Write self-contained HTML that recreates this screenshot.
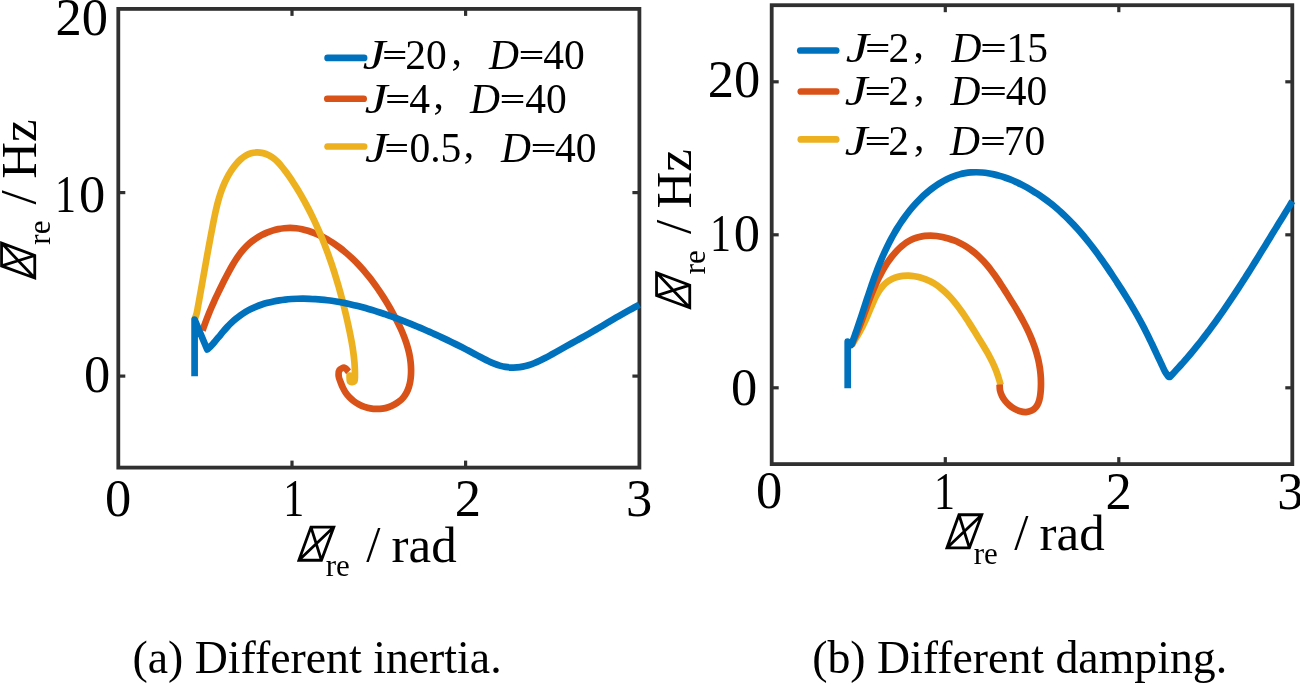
<!DOCTYPE html>
<html><head><meta charset="utf-8"><style>
html,body{margin:0;padding:0;background:#fff;width:1300px;height:685px;overflow:hidden}
svg{display:block;font-family:"Liberation Serif",serif;will-change:transform}
</style></head><body>
<svg width="1300" height="685" viewBox="0 0 1300 685">
<rect width="1300" height="685" fill="#fff"/>
<rect x="118.30" y="8.90" width="521.10" height="458.70" fill="none" stroke="#303030" stroke-width="3.80"/>
<line x1="292.00" y1="467.60" x2="292.00" y2="460.60" stroke="#303030" stroke-width="3.20"/>
<line x1="292.00" y1="8.90" x2="292.00" y2="15.90" stroke="#303030" stroke-width="3.20"/>
<line x1="465.60" y1="467.60" x2="465.60" y2="460.60" stroke="#303030" stroke-width="3.20"/>
<line x1="465.60" y1="8.90" x2="465.60" y2="15.90" stroke="#303030" stroke-width="3.20"/>
<line x1="118.30" y1="376.10" x2="125.30" y2="376.10" stroke="#303030" stroke-width="3.20"/>
<line x1="639.40" y1="376.10" x2="632.40" y2="376.10" stroke="#303030" stroke-width="3.20"/>
<line x1="118.30" y1="192.60" x2="125.30" y2="192.60" stroke="#303030" stroke-width="3.20"/>
<line x1="639.40" y1="192.60" x2="632.40" y2="192.60" stroke="#303030" stroke-width="3.20"/>
<rect x="771.70" y="5.20" width="520.60" height="458.90" fill="none" stroke="#303030" stroke-width="3.80"/>
<line x1="945.30" y1="464.10" x2="945.30" y2="457.10" stroke="#303030" stroke-width="3.20"/>
<line x1="945.30" y1="5.20" x2="945.30" y2="12.20" stroke="#303030" stroke-width="3.20"/>
<line x1="1118.80" y1="464.10" x2="1118.80" y2="457.10" stroke="#303030" stroke-width="3.20"/>
<line x1="1118.80" y1="5.20" x2="1118.80" y2="12.20" stroke="#303030" stroke-width="3.20"/>
<line x1="771.70" y1="387.80" x2="778.70" y2="387.80" stroke="#303030" stroke-width="3.20"/>
<line x1="1292.30" y1="387.80" x2="1285.30" y2="387.80" stroke="#303030" stroke-width="3.20"/>
<line x1="771.70" y1="234.80" x2="778.70" y2="234.80" stroke="#303030" stroke-width="3.20"/>
<line x1="1292.30" y1="234.80" x2="1285.30" y2="234.80" stroke="#303030" stroke-width="3.20"/>
<line x1="771.70" y1="81.80" x2="778.70" y2="81.80" stroke="#303030" stroke-width="3.20"/>
<line x1="1292.30" y1="81.80" x2="1285.30" y2="81.80" stroke="#303030" stroke-width="3.20"/>
<path d="M202.50 330.50 C202.84 329.55 203.85 326.69 204.55 324.79 C205.25 322.89 205.96 320.98 206.68 319.10 C207.41 317.22 208.15 315.36 208.90 313.52 C209.65 311.67 210.42 309.84 211.20 308.02 C211.98 306.20 212.78 304.39 213.58 302.59 C214.39 300.78 215.21 298.99 216.05 297.20 C216.88 295.40 217.73 293.62 218.59 291.83 C219.45 290.04 220.32 288.26 221.21 286.47 C222.09 284.68 222.99 282.89 223.90 281.09 C224.81 279.30 225.73 277.49 226.67 275.68 C227.61 273.88 228.56 272.07 229.55 270.28 C230.53 268.49 231.53 266.70 232.57 264.95 C233.61 263.19 234.68 261.45 235.79 259.75 C236.91 258.06 238.05 256.38 239.25 254.77 C240.45 253.15 241.69 251.57 243.00 250.05 C244.30 248.54 245.66 247.07 247.08 245.68 C248.50 244.29 249.98 242.96 251.53 241.72 C253.07 240.47 254.68 239.29 256.34 238.20 C258.00 237.11 259.72 236.09 261.47 235.16 C263.23 234.23 265.03 233.38 266.87 232.62 C268.70 231.86 270.58 231.18 272.48 230.60 C274.38 230.02 276.32 229.52 278.26 229.13 C280.21 228.73 282.18 228.43 284.16 228.23 C286.14 228.02 288.14 227.92 290.13 227.92 C292.13 227.92 294.13 228.02 296.12 228.23 C298.12 228.44 300.11 228.77 302.09 229.19 C304.06 229.60 306.03 230.14 307.98 230.74 C309.92 231.34 311.85 232.03 313.74 232.78 C315.64 233.53 317.51 234.36 319.35 235.23 C321.18 236.09 322.99 237.02 324.75 237.98 C326.52 238.94 328.25 239.95 329.95 241.00 C331.66 242.05 333.32 243.14 334.96 244.27 C336.60 245.40 338.21 246.57 339.79 247.77 C341.38 248.98 342.93 250.22 344.45 251.48 C345.98 252.75 347.48 254.05 348.96 255.38 C350.43 256.71 351.88 258.07 353.31 259.45 C354.73 260.83 356.14 262.24 357.52 263.67 C358.90 265.11 360.25 266.56 361.58 268.05 C362.92 269.53 364.23 271.03 365.52 272.56 C366.80 274.08 368.07 275.63 369.32 277.20 C370.56 278.77 371.78 280.35 372.99 281.96 C374.19 283.57 375.37 285.19 376.53 286.83 C377.69 288.47 378.83 290.13 379.96 291.81 C381.08 293.48 382.18 295.17 383.26 296.87 C384.35 298.57 385.41 300.29 386.46 302.02 C387.50 303.74 388.53 305.49 389.54 307.24 C390.55 308.99 391.54 310.75 392.52 312.52 C393.50 314.29 394.46 316.07 395.39 317.86 C396.33 319.64 397.26 321.44 398.14 323.25 C399.03 325.05 399.90 326.87 400.73 328.69 C401.56 330.52 402.36 332.36 403.12 334.20 C403.88 336.05 404.60 337.91 405.27 339.78 C405.94 341.65 406.57 343.53 407.14 345.43 C407.71 347.33 408.23 349.23 408.69 351.15 C409.15 353.08 409.55 355.01 409.89 356.96 C410.22 358.91 410.49 360.87 410.69 362.85 C410.88 364.83 411.02 366.82 411.06 368.83 C411.11 370.84 411.09 372.88 410.96 374.91 C410.83 376.93 410.64 378.99 410.30 380.99 C409.96 382.99 409.53 384.98 408.92 386.89 C408.32 388.79 407.61 390.66 406.69 392.40 C405.78 394.14 404.71 395.81 403.45 397.32 C402.19 398.84 400.71 400.24 399.14 401.49 C397.57 402.74 395.80 403.86 394.00 404.81 C392.19 405.77 390.25 406.58 388.31 407.20 C386.37 407.83 384.35 408.29 382.35 408.59 C380.35 408.88 378.31 408.99 376.31 408.95 C374.31 408.91 372.30 408.70 370.34 408.35 C368.38 408.00 366.43 407.49 364.55 406.85 C362.67 406.21 360.82 405.41 359.07 404.49 C357.32 403.57 355.62 402.51 354.04 401.34 C352.46 400.16 350.95 398.85 349.57 397.44 C348.20 396.02 346.93 394.49 345.81 392.85 C344.69 391.22 343.73 389.45 342.85 387.64 C341.98 385.83 341.23 383.91 340.53 382.00 C339.84 380.10 338.88 378.15 338.70 376.19 C338.51 374.23 338.44 371.66 339.41 370.25 C340.38 368.85 342.97 367.50 344.50 367.76 C346.04 368.02 347.92 371.13 348.60 371.80" fill="none" stroke="#D95319" stroke-width="6.70" stroke-linejoin="round" stroke-linecap="butt"/>
<path d="M195.00 318.50 C195.30 317.56 196.33 314.78 196.82 312.86 C197.30 310.94 197.55 308.92 197.91 306.96 C198.27 304.99 198.63 303.03 198.99 301.06 C199.34 299.10 199.70 297.13 200.05 295.17 C200.40 293.21 200.76 291.25 201.11 289.28 C201.46 287.32 201.81 285.36 202.16 283.40 C202.51 281.44 202.86 279.48 203.21 277.52 C203.56 275.55 203.91 273.59 204.26 271.63 C204.61 269.67 204.96 267.71 205.31 265.75 C205.66 263.78 206.01 261.82 206.36 259.86 C206.72 257.89 207.07 255.93 207.43 253.96 C207.78 252.00 208.14 250.03 208.50 248.07 C208.86 246.10 209.22 244.13 209.59 242.16 C209.96 240.19 210.32 238.22 210.69 236.24 C211.07 234.27 211.44 232.29 211.82 230.32 C212.20 228.34 212.58 226.36 212.96 224.38 C213.35 222.40 213.74 220.41 214.14 218.44 C214.55 216.46 214.96 214.47 215.39 212.50 C215.83 210.53 216.28 208.56 216.75 206.61 C217.23 204.65 217.73 202.70 218.27 200.77 C218.81 198.84 219.37 196.92 219.98 195.01 C220.59 193.11 221.23 191.23 221.93 189.36 C222.62 187.50 223.36 185.66 224.15 183.84 C224.94 182.03 225.79 180.23 226.69 178.47 C227.60 176.71 228.56 174.97 229.60 173.27 C230.63 171.57 231.73 169.90 232.90 168.27 C234.08 166.64 235.32 165.02 236.65 163.49 C237.99 161.97 239.39 160.46 240.90 159.14 C242.40 157.83 243.99 156.58 245.69 155.60 C247.39 154.62 249.20 153.79 251.10 153.27 C252.99 152.74 255.05 152.48 257.06 152.45 C259.07 152.43 261.18 152.67 263.14 153.11 C265.09 153.56 267.03 154.27 268.79 155.14 C270.56 156.01 272.20 157.14 273.75 158.35 C275.31 159.56 276.75 160.96 278.14 162.41 C279.53 163.85 280.83 165.43 282.11 167.00 C283.40 168.56 284.62 170.19 285.83 171.81 C287.03 173.42 288.10 174.89 289.35 176.71 C290.61 178.52 292.17 180.85 293.37 182.70 C294.58 184.54 295.53 186.07 296.58 187.77 C297.63 189.47 298.66 191.18 299.67 192.90 C300.69 194.62 301.69 196.35 302.67 198.09 C303.65 199.83 304.62 201.57 305.57 203.33 C306.52 205.09 307.45 206.85 308.37 208.63 C309.29 210.40 310.19 212.18 311.08 213.97 C311.97 215.76 312.84 217.56 313.70 219.37 C314.55 221.17 315.40 222.99 316.22 224.81 C317.05 226.63 317.87 228.45 318.67 230.29 C319.46 232.12 320.25 233.96 321.02 235.81 C321.79 237.66 322.55 239.51 323.29 241.37 C324.04 243.23 324.77 245.10 325.49 246.97 C326.20 248.84 326.91 250.71 327.60 252.60 C328.29 254.48 328.97 256.36 329.64 258.26 C330.30 260.15 330.96 262.04 331.60 263.94 C332.24 265.85 332.87 267.75 333.49 269.66 C334.11 271.57 334.71 273.48 335.31 275.40 C335.90 277.31 336.48 279.23 337.06 281.16 C337.63 283.08 338.19 285.01 338.74 286.94 C339.29 288.87 339.83 290.80 340.36 292.73 C340.89 294.67 341.41 296.60 341.92 298.54 C342.43 300.48 342.92 302.42 343.41 304.36 C343.90 306.30 344.38 308.25 344.85 310.19 C345.32 312.14 345.78 314.08 346.24 316.03 C346.69 317.98 347.13 319.93 347.56 321.87 C348.00 323.82 348.43 325.77 348.84 327.72 C349.26 329.67 349.67 331.61 350.06 333.56 C350.46 335.51 350.85 337.46 351.21 339.42 C351.58 341.37 351.93 343.33 352.25 345.29 C352.58 347.25 352.89 349.22 353.16 351.19 C353.44 353.16 353.69 355.14 353.91 357.13 C354.13 359.12 354.33 361.11 354.48 363.11 C354.63 365.12 354.75 367.13 354.83 369.15 C354.90 371.18 355.00 373.24 354.93 375.26 C354.86 377.28 355.21 380.23 354.41 381.29 C353.60 382.34 350.91 382.57 350.11 381.61 C349.31 380.64 349.69 376.52 349.60 375.50" fill="none" stroke="#EDB120" stroke-width="6.70" stroke-linejoin="round" stroke-linecap="round"/>
<path d="M194.6 376.3 L194.6 319.6 L207.20 349.50 C207.92 348.82 210.17 346.84 211.55 345.41 C212.93 343.98 214.17 342.43 215.46 340.91 C216.75 339.39 218.01 337.83 219.29 336.29 C220.57 334.75 221.84 333.18 223.14 331.66 C224.44 330.13 225.75 328.61 227.11 327.13 C228.47 325.66 229.85 324.21 231.29 322.83 C232.74 321.44 234.23 320.11 235.78 318.84 C237.32 317.57 238.93 316.36 240.57 315.21 C242.21 314.06 243.89 312.97 245.61 311.95 C247.33 310.93 249.09 309.98 250.87 309.09 C252.65 308.20 254.47 307.38 256.31 306.62 C258.14 305.86 260.01 305.17 261.89 304.53 C263.77 303.90 265.68 303.33 267.60 302.81 C269.52 302.29 271.47 301.83 273.42 301.42 C275.37 301.01 277.35 300.65 279.33 300.34 C281.30 300.03 283.30 299.77 285.30 299.55 C287.29 299.33 289.30 299.16 291.31 299.02 C293.32 298.89 295.33 298.79 297.34 298.73 C299.36 298.67 301.37 298.65 303.38 298.66 C305.39 298.67 307.40 298.71 309.40 298.79 C311.41 298.86 313.41 298.96 315.41 299.09 C317.40 299.23 319.40 299.39 321.39 299.58 C323.38 299.77 325.37 299.99 327.35 300.24 C329.33 300.48 331.31 300.76 333.29 301.05 C335.27 301.35 337.24 301.68 339.21 302.03 C341.18 302.37 343.14 302.75 345.10 303.14 C347.06 303.54 349.02 303.96 350.97 304.40 C352.92 304.84 354.87 305.30 356.82 305.79 C358.76 306.27 360.70 306.77 362.64 307.30 C364.57 307.82 366.50 308.36 368.43 308.92 C370.35 309.48 372.28 310.06 374.19 310.65 C376.11 311.24 378.02 311.85 379.93 312.48 C381.84 313.11 383.74 313.75 385.64 314.40 C387.54 315.05 389.43 315.72 391.32 316.40 C393.21 317.09 395.09 317.78 396.97 318.48 C398.84 319.19 400.72 319.91 402.58 320.63 C404.45 321.36 406.31 322.09 408.17 322.84 C410.02 323.58 411.88 324.34 413.72 325.10 C415.57 325.86 417.40 326.63 419.24 327.40 C421.07 328.18 423.08 329.04 424.73 329.75 C426.37 330.46 427.46 330.94 429.10 331.66 C430.73 332.39 432.73 333.28 434.54 334.10 C436.35 334.92 438.16 335.75 439.97 336.58 C441.77 337.42 443.57 338.27 445.38 339.13 C447.18 339.98 448.98 340.85 450.77 341.72 C452.57 342.60 454.37 343.49 456.17 344.38 C457.96 345.28 459.76 346.19 461.56 347.10 C463.35 348.02 465.15 348.95 466.95 349.89 C468.75 350.83 470.54 351.78 472.35 352.74 C474.15 353.71 475.95 354.69 477.75 355.66 C479.56 356.63 481.37 357.61 483.18 358.55 C485.00 359.48 486.82 360.41 488.65 361.26 C490.48 362.11 492.32 362.93 494.17 363.65 C496.02 364.37 497.88 365.04 499.75 365.59 C501.63 366.13 503.52 366.59 505.42 366.92 C507.32 367.24 509.25 367.45 511.17 367.53 C513.09 367.62 515.03 367.58 516.96 367.44 C518.88 367.29 520.82 367.02 522.73 366.66 C524.64 366.29 526.55 365.80 528.44 365.23 C530.33 364.66 532.20 363.98 534.07 363.24 C535.93 362.51 537.78 361.68 539.62 360.82 C541.46 359.96 543.29 359.03 545.11 358.08 C546.93 357.13 548.74 356.13 550.54 355.13 C552.34 354.13 554.13 353.10 555.91 352.10 C557.69 351.09 559.46 350.08 561.22 349.09 C562.99 348.10 564.74 347.12 566.49 346.16 C568.24 345.19 569.99 344.23 571.72 343.27 C573.46 342.32 575.20 341.37 576.93 340.41 C578.66 339.46 580.38 338.50 582.11 337.54 C583.84 336.57 585.56 335.61 587.28 334.62 C589.01 333.64 590.73 332.65 592.45 331.64 C594.17 330.64 595.90 329.63 597.62 328.61 C599.35 327.59 601.07 326.56 602.80 325.54 C604.52 324.51 606.25 323.48 607.98 322.46 C609.71 321.43 611.44 320.40 613.18 319.38 C614.91 318.36 616.65 317.34 618.39 316.33 C620.13 315.32 621.87 314.32 623.61 313.33 C625.36 312.34 627.11 311.36 628.86 310.39 C630.62 309.43 632.38 308.50 634.14 307.55 C635.89 306.60 638.52 305.17 639.40 304.70" fill="none" stroke="#0072BD" stroke-width="6.70" stroke-linejoin="round" stroke-linecap="butt"/>
<path d="M852.00 345.00 C852.49 344.12 853.92 341.39 854.93 339.70 C855.93 338.01 857.03 336.51 858.02 334.86 C859.01 333.20 859.95 331.52 860.86 329.79 C861.77 328.07 862.64 326.31 863.50 324.52 C864.36 322.72 865.19 320.89 866.02 319.03 C866.85 317.17 867.65 315.27 868.47 313.34 C869.29 311.41 870.10 309.43 870.94 307.46 C871.78 305.49 872.62 303.47 873.52 301.52 C874.41 299.57 875.33 297.61 876.32 295.76 C877.31 293.91 878.34 292.08 879.46 290.40 C880.58 288.72 881.76 287.11 883.06 285.68 C884.35 284.25 885.74 282.94 887.23 281.82 C888.71 280.70 890.32 279.74 891.99 278.94 C893.65 278.13 895.42 277.50 897.22 277.00 C899.02 276.49 900.90 276.15 902.79 275.93 C904.68 275.71 906.63 275.64 908.57 275.69 C910.51 275.74 912.49 275.92 914.43 276.21 C916.37 276.51 918.33 276.93 920.23 277.45 C922.13 277.97 924.01 278.60 925.84 279.33 C927.66 280.06 929.43 280.89 931.15 281.80 C932.87 282.72 934.54 283.73 936.17 284.82 C937.80 285.90 939.38 287.07 940.92 288.31 C942.46 289.54 943.95 290.86 945.41 292.22 C946.87 293.59 948.29 295.02 949.67 296.50 C951.06 297.98 952.40 299.51 953.72 301.08 C955.04 302.65 956.32 304.27 957.58 305.92 C958.84 307.56 960.07 309.25 961.27 310.94 C962.48 312.64 963.66 314.37 964.82 316.11 C965.98 317.84 967.11 319.60 968.24 321.35 C969.36 323.10 970.46 324.86 971.55 326.61 C972.64 328.35 973.71 330.10 974.78 331.83 C975.85 333.55 976.90 335.27 977.95 336.96 C978.99 338.65 980.04 340.31 981.06 341.98 C982.08 343.64 983.09 345.29 984.09 346.95 C985.08 348.61 986.05 350.26 987.00 351.93 C987.95 353.60 988.88 355.27 989.78 356.98 C990.68 358.68 991.56 360.40 992.40 362.16 C993.24 363.92 994.05 365.70 994.82 367.54 C995.59 369.37 996.33 371.24 997.02 373.17 C997.72 375.10 998.37 377.15 998.98 379.13 C999.59 381.10 1000.41 384.02 1000.70 385.00" fill="none" stroke="#EDB120" stroke-width="6.70" stroke-linejoin="round" stroke-linecap="butt"/>
<path d="M851.50 345.00 C851.92 344.07 853.19 341.34 854.04 339.45 C854.89 337.56 855.78 335.58 856.59 333.67 C857.41 331.77 858.17 329.90 858.92 328.04 C859.66 326.18 860.37 324.35 861.06 322.52 C861.76 320.69 862.42 318.88 863.09 317.08 C863.75 315.27 864.39 313.48 865.04 311.68 C865.69 309.89 866.33 308.10 866.98 306.31 C867.64 304.51 868.29 302.72 868.96 300.92 C869.64 299.12 870.32 297.31 871.04 295.49 C871.76 293.66 872.49 291.83 873.27 289.98 C874.05 288.12 874.85 286.25 875.70 284.37 C876.55 282.49 877.43 280.59 878.36 278.70 C879.28 276.82 880.25 274.93 881.25 273.06 C882.26 271.20 883.30 269.34 884.39 267.53 C885.48 265.72 886.60 263.92 887.77 262.19 C888.95 260.45 890.16 258.75 891.42 257.12 C892.68 255.49 893.98 253.90 895.34 252.40 C896.69 250.90 898.08 249.46 899.53 248.11 C900.97 246.77 902.46 245.50 904.00 244.35 C905.54 243.19 907.13 242.12 908.76 241.18 C910.40 240.24 912.09 239.40 913.83 238.69 C915.57 237.99 917.37 237.41 919.20 236.95 C921.03 236.50 922.91 236.17 924.81 235.95 C926.71 235.73 928.65 235.64 930.60 235.64 C932.55 235.65 934.53 235.77 936.50 235.98 C938.47 236.20 940.46 236.52 942.43 236.93 C944.41 237.34 946.38 237.85 948.33 238.43 C950.28 239.02 952.22 239.70 954.12 240.46 C956.03 241.21 957.91 242.05 959.74 242.95 C961.57 243.86 963.37 244.84 965.11 245.88 C966.84 246.92 968.53 248.03 970.16 249.19 C971.79 250.35 973.35 251.58 974.87 252.85 C976.40 254.12 977.86 255.44 979.29 256.81 C980.71 258.18 982.09 259.60 983.43 261.05 C984.78 262.50 986.07 264.00 987.35 265.52 C988.62 267.05 989.85 268.61 991.06 270.20 C992.27 271.78 993.45 273.40 994.61 275.03 C995.77 276.67 996.91 278.33 998.04 280.00 C999.16 281.67 1000.26 283.36 1001.36 285.05 C1002.46 286.75 1003.55 288.45 1004.64 290.16 C1005.72 291.87 1006.80 293.58 1007.88 295.29 C1008.95 297.00 1010.03 298.72 1011.09 300.43 C1012.15 302.15 1013.21 303.87 1014.25 305.60 C1015.30 307.32 1016.33 309.05 1017.34 310.78 C1018.36 312.52 1019.36 314.26 1020.34 316.00 C1021.32 317.75 1022.28 319.50 1023.22 321.26 C1024.16 323.02 1025.07 324.79 1025.96 326.57 C1026.85 328.35 1027.71 330.13 1028.54 331.93 C1029.37 333.73 1030.18 335.53 1030.94 337.35 C1031.71 339.17 1032.44 341.00 1033.14 342.84 C1033.83 344.68 1034.49 346.53 1035.11 348.40 C1035.73 350.27 1036.30 352.15 1036.83 354.04 C1037.36 355.94 1037.85 357.85 1038.29 359.77 C1038.73 361.70 1039.12 363.64 1039.45 365.60 C1039.79 367.56 1040.08 369.53 1040.31 371.52 C1040.53 373.52 1040.71 375.53 1040.82 377.56 C1040.94 379.59 1040.99 381.64 1040.98 383.71 C1040.98 385.78 1040.92 387.89 1040.77 389.99 C1040.62 392.08 1040.45 394.26 1040.09 396.30 C1039.73 398.34 1039.31 400.39 1038.62 402.20 C1037.94 404.01 1037.11 405.75 1035.96 407.16 C1034.82 408.56 1033.37 409.79 1031.73 410.61 C1030.08 411.43 1028.02 411.97 1026.09 412.08 C1024.17 412.18 1022.09 411.80 1020.17 411.26 C1018.25 410.72 1016.34 409.84 1014.57 408.85 C1012.79 407.87 1011.06 406.67 1009.51 405.35 C1007.96 404.04 1006.49 402.55 1005.24 400.98 C1003.99 399.41 1002.87 397.69 1002.00 395.93 C1001.13 394.17 1000.42 392.32 1000.02 390.42 C999.62 388.51 999.67 385.49 999.60 384.50" fill="none" stroke="#D95319" stroke-width="6.70" stroke-linejoin="round" stroke-linecap="butt"/>
<path d="M847.7 388.3 L847.7 341.7 L851.20 345.00 C851.56 344.06 852.64 341.24 853.34 339.37 C854.04 337.49 854.71 335.62 855.38 333.74 C856.05 331.87 856.70 329.98 857.35 328.10 C858.01 326.21 858.65 324.32 859.28 322.43 C859.92 320.54 860.55 318.64 861.18 316.74 C861.80 314.85 862.42 312.95 863.05 311.05 C863.67 309.15 864.29 307.25 864.91 305.36 C865.53 303.46 866.15 301.56 866.77 299.66 C867.40 297.76 868.02 295.86 868.66 293.97 C869.29 292.08 869.93 290.18 870.57 288.29 C871.22 286.40 871.86 284.51 872.53 282.63 C873.19 280.75 873.86 278.87 874.54 276.99 C875.22 275.12 875.91 273.25 876.62 271.38 C877.33 269.52 878.04 267.66 878.78 265.80 C879.52 263.95 880.27 262.10 881.04 260.26 C881.81 258.42 882.60 256.59 883.40 254.77 C884.21 252.94 885.04 251.13 885.89 249.32 C886.74 247.51 887.61 245.71 888.51 243.93 C889.41 242.14 890.33 240.36 891.28 238.59 C892.23 236.82 893.20 235.07 894.21 233.32 C895.21 231.58 896.25 229.84 897.31 228.12 C898.38 226.40 899.47 224.70 900.60 223.00 C901.73 221.31 902.89 219.62 904.08 217.96 C905.28 216.29 906.51 214.64 907.78 213.01 C909.04 211.39 910.34 209.78 911.66 208.20 C912.99 206.62 914.35 205.06 915.74 203.54 C917.13 202.02 918.55 200.53 920.00 199.08 C921.45 197.63 922.92 196.22 924.43 194.85 C925.93 193.48 927.47 192.15 929.02 190.88 C930.58 189.60 932.17 188.37 933.78 187.20 C935.39 186.03 937.02 184.91 938.68 183.85 C940.34 182.79 942.02 181.79 943.72 180.86 C945.43 179.93 947.16 179.05 948.90 178.26 C950.65 177.46 952.42 176.73 954.21 176.09 C955.99 175.44 957.80 174.86 959.63 174.37 C961.45 173.88 963.30 173.47 965.16 173.15 C967.02 172.83 968.90 172.60 970.79 172.45 C972.68 172.30 974.59 172.24 976.50 172.25 C978.42 172.26 980.34 172.36 982.28 172.53 C984.21 172.70 986.15 172.94 988.09 173.25 C990.03 173.56 991.97 173.94 993.91 174.38 C995.85 174.83 997.80 175.34 999.73 175.90 C1001.67 176.46 1003.79 177.16 1005.52 177.76 C1007.25 178.35 1008.40 178.79 1010.11 179.48 C1011.83 180.16 1013.91 181.04 1015.79 181.88 C1017.67 182.73 1019.53 183.62 1021.37 184.55 C1023.22 185.47 1025.04 186.44 1026.84 187.44 C1028.64 188.43 1030.42 189.47 1032.17 190.52 C1033.92 191.58 1035.65 192.66 1037.35 193.78 C1039.05 194.89 1040.72 196.02 1042.37 197.19 C1044.02 198.35 1045.65 199.54 1047.25 200.75 C1048.85 201.96 1050.43 203.19 1051.99 204.45 C1053.55 205.71 1055.08 206.99 1056.59 208.29 C1058.11 209.59 1059.60 210.92 1061.07 212.26 C1062.54 213.60 1063.99 214.97 1065.42 216.35 C1066.85 217.73 1068.27 219.14 1069.66 220.56 C1071.06 221.97 1072.43 223.41 1073.79 224.87 C1075.15 226.32 1076.49 227.79 1077.82 229.28 C1079.14 230.76 1080.45 232.26 1081.75 233.78 C1083.04 235.29 1084.32 236.82 1085.58 238.37 C1086.85 239.91 1088.10 241.47 1089.33 243.03 C1090.57 244.60 1091.80 246.18 1093.01 247.77 C1094.22 249.36 1095.42 250.96 1096.61 252.57 C1097.80 254.18 1098.97 255.79 1100.14 257.42 C1101.31 259.05 1102.46 260.68 1103.61 262.32 C1104.76 263.97 1105.90 265.62 1107.03 267.27 C1108.16 268.92 1109.28 270.58 1110.40 272.25 C1111.51 273.91 1112.62 275.58 1113.72 277.25 C1114.83 278.92 1115.92 280.60 1117.01 282.28 C1118.10 283.96 1119.19 285.64 1120.27 287.32 C1121.35 289.00 1122.42 290.69 1123.48 292.38 C1124.55 294.07 1125.60 295.77 1126.65 297.47 C1127.70 299.17 1128.74 300.87 1129.77 302.58 C1130.80 304.29 1131.82 306.00 1132.83 307.72 C1133.84 309.44 1134.84 311.17 1135.83 312.90 C1136.82 314.63 1137.80 316.37 1138.77 318.11 C1139.73 319.86 1140.69 321.61 1141.63 323.37 C1142.57 325.13 1143.50 326.90 1144.42 328.67 C1145.33 330.45 1146.23 332.23 1147.13 334.02 C1148.02 335.81 1148.90 337.61 1149.77 339.41 C1150.64 341.21 1151.51 343.02 1152.37 344.82 C1153.23 346.63 1154.08 348.45 1154.93 350.26 C1155.79 352.07 1156.64 353.89 1157.49 355.71 C1158.34 357.52 1159.19 359.34 1160.05 361.15 C1160.91 362.97 1161.76 364.78 1162.63 366.59 C1163.50 368.40 1164.26 370.27 1165.26 372.00 C1166.25 373.74 1168.04 376.17 1168.60 377.00 L1169.93 376.84 C1170.62 376.11 1172.71 373.94 1174.09 372.48 C1175.46 371.01 1176.83 369.54 1178.18 368.06 C1179.53 366.57 1180.88 365.08 1182.21 363.58 C1183.54 362.08 1184.86 360.57 1186.17 359.06 C1187.48 357.54 1188.78 356.01 1190.07 354.48 C1191.36 352.95 1192.64 351.40 1193.92 349.85 C1195.19 348.31 1196.45 346.75 1197.70 345.18 C1198.96 343.62 1200.32 341.89 1201.44 340.47 C1202.55 339.05 1203.29 338.10 1204.39 336.67 C1205.49 335.24 1206.82 333.48 1208.03 331.88 C1209.24 330.28 1210.44 328.67 1211.63 327.06 C1212.82 325.44 1214.00 323.82 1215.18 322.20 C1216.36 320.57 1217.52 318.94 1218.69 317.30 C1219.85 315.67 1221.01 314.02 1222.16 312.38 C1223.31 310.73 1224.45 309.08 1225.59 307.42 C1226.73 305.77 1227.86 304.11 1228.98 302.44 C1230.11 300.78 1231.23 299.11 1232.35 297.43 C1233.46 295.76 1234.57 294.08 1235.68 292.40 C1236.78 290.72 1237.88 289.04 1238.98 287.35 C1240.08 285.67 1241.17 283.98 1242.26 282.28 C1243.35 280.59 1244.43 278.89 1245.51 277.20 C1246.59 275.50 1247.67 273.80 1248.74 272.10 C1249.82 270.39 1250.89 268.69 1251.96 266.98 C1253.03 265.28 1254.09 263.57 1255.15 261.86 C1256.22 260.15 1257.28 258.44 1258.34 256.73 C1259.39 255.02 1260.45 253.30 1261.51 251.59 C1262.56 249.88 1263.72 247.99 1264.67 246.45 C1265.61 244.91 1266.24 243.88 1267.19 242.33 C1268.14 240.79 1269.29 238.90 1270.34 237.19 C1271.39 235.48 1272.44 233.76 1273.49 232.05 C1274.53 230.34 1275.58 228.62 1276.63 226.91 C1277.68 225.20 1278.73 223.49 1279.78 221.78 C1280.83 220.07 1281.88 218.36 1282.93 216.66 C1283.98 214.95 1285.03 213.25 1286.09 211.54 C1287.14 209.84 1288.22 208.17 1289.25 206.44 C1290.29 204.72 1291.79 202.07 1292.30 201.20" fill="none" stroke="#0072BD" stroke-width="6.70" stroke-linejoin="round" stroke-linecap="butt"/>
<g font-family="'Liberation Serif', serif" fill="#000">
<text x="55.45" y="35.35" font-size="52.50">20</text>
<text transform="translate(66.05 211.63) scale(0.800 1)" x="-13.86" font-size="52.50">1</text>
<text x="78.97" y="211.75" font-size="52.50">0</text>
<text x="83.88" y="391.75" font-size="52.50">0</text>
<text x="104.97" y="516.15" font-size="52.50">0</text>
<text transform="translate(294.30 515.83) scale(0.800 1)" x="-13.86" font-size="52.50">1</text>
<text x="454.67" y="516.13" font-size="52.50">2</text>
<text x="625.89" y="516.32" font-size="52.50">3</text>
<text x="707.65" y="96.90" font-size="52.50">20</text>
<text transform="translate(721.10 250.58) scale(0.800 1)" x="-13.86" font-size="52.50">1</text>
<text x="733.77" y="250.70" font-size="52.50">0</text>
<text x="730.88" y="404.80" font-size="52.50">0</text>
<text x="755.97" y="507.90" font-size="52.50">0</text>
<text transform="translate(945.05 508.63) scale(0.800 1)" x="-13.86" font-size="52.50">1</text>
<text x="1105.47" y="508.88" font-size="52.50">2</text>
<text x="1277.29" y="509.02" font-size="52.50">3</text>
<line x1="327.60" y1="57.90" x2="364.10" y2="57.90" stroke="#0072BD" stroke-width="6.70" stroke-linecap="round"/>
<text transform="translate(362.72 68.80) scale(1.236 1)" font-size="41.50" font-style="italic">J</text>
<rect x="384.30" y="51.00" width="20.90" height="2.00" fill="#000"/><rect x="384.30" y="57.00" width="20.90" height="2.00" fill="#000"/>
<text x="405.18" y="68.50" font-size="41.50">20</text>
<text x="451.42" y="64.20" font-size="41.50">,</text>
<text x="488.97" y="68.50" font-size="41.50" font-style="italic">D</text>
<rect x="520.80" y="51.00" width="21.40" height="2.00" fill="#000"/><rect x="520.80" y="57.00" width="21.40" height="2.00" fill="#000"/>
<text x="543.19" y="68.50" font-size="41.50">40</text>
<line x1="327.30" y1="98.75" x2="363.70" y2="98.75" stroke="#D95319" stroke-width="6.70" stroke-linecap="round"/>
<text transform="translate(364.72 112.80) scale(1.236 1)" font-size="41.50" font-style="italic">J</text>
<rect x="387.30" y="95.00" width="20.90" height="2.00" fill="#000"/><rect x="387.30" y="101.00" width="20.90" height="2.00" fill="#000"/>
<text x="409.19" y="112.50" font-size="41.50">4</text>
<text x="433.42" y="108.20" font-size="41.50">,</text>
<text x="469.97" y="112.50" font-size="41.50" font-style="italic">D</text>
<rect x="501.80" y="95.00" width="21.40" height="2.00" fill="#000"/><rect x="501.80" y="101.00" width="21.40" height="2.00" fill="#000"/>
<text x="525.19" y="112.50" font-size="41.50">40</text>
<line x1="327.60" y1="146.50" x2="364.10" y2="146.50" stroke="#EDB120" stroke-width="6.70" stroke-linecap="round"/>
<text transform="translate(365.03 162.00) scale(1.221 1)" font-size="41.50" font-style="italic">J</text>
<rect x="386.50" y="144.00" width="20.40" height="2.00" fill="#000"/><rect x="386.50" y="150.00" width="20.40" height="2.00" fill="#000"/>
<text x="409.42" y="161.70" font-size="41.50">0.5</text>
<text x="463.82" y="157.40" font-size="41.50">,</text>
<text x="500.97" y="161.70" font-size="41.50" font-style="italic">D</text>
<rect x="532.80" y="144.00" width="21.50" height="2.00" fill="#000"/><rect x="532.80" y="150.00" width="21.50" height="2.00" fill="#000"/>
<text x="554.99" y="161.70" font-size="41.50">40</text>
<line x1="800.30" y1="50.50" x2="836.20" y2="50.50" stroke="#0072BD" stroke-width="6.70" stroke-linecap="round"/>
<text transform="translate(845.71 61.80) scale(1.252 1)" font-size="41.50" font-style="italic">J</text>
<rect x="867.30" y="44.00" width="20.90" height="2.00" fill="#000"/><rect x="867.30" y="50.00" width="20.90" height="2.00" fill="#000"/>
<text x="888.38" y="61.50" font-size="41.50">2</text>
<text x="913.42" y="57.20" font-size="41.50">,</text>
<text x="951.47" y="61.50" font-size="41.50" font-style="italic">D</text>
<rect x="982.50" y="44.00" width="22.00" height="2.00" fill="#000"/><rect x="982.50" y="50.00" width="22.00" height="2.00" fill="#000"/>
<text x="1006.55" y="61.50" font-size="41.50">15</text>
<line x1="800.80" y1="91.50" x2="836.20" y2="91.50" stroke="#D95319" stroke-width="6.70" stroke-linecap="round"/>
<text transform="translate(844.72 105.00) scale(1.236 1)" font-size="41.50" font-style="italic">J</text>
<rect x="866.80" y="87.00" width="21.90" height="2.00" fill="#000"/><rect x="866.80" y="93.00" width="21.90" height="2.00" fill="#000"/>
<text x="888.18" y="104.70" font-size="41.50">2</text>
<text x="913.92" y="100.40" font-size="41.50">,</text>
<text x="950.47" y="104.70" font-size="41.50" font-style="italic">D</text>
<rect x="981.80" y="87.00" width="22.90" height="2.00" fill="#000"/><rect x="981.80" y="93.00" width="22.90" height="2.00" fill="#000"/>
<text x="1005.69" y="104.70" font-size="41.50">40</text>
<line x1="800.80" y1="139.40" x2="836.20" y2="139.40" stroke="#EDB120" stroke-width="6.70" stroke-linecap="round"/>
<text transform="translate(844.72 154.80) scale(1.236 1)" font-size="41.50" font-style="italic">J</text>
<rect x="866.80" y="137.00" width="21.90" height="2.00" fill="#000"/><rect x="866.80" y="143.00" width="21.90" height="2.00" fill="#000"/>
<text x="888.18" y="154.50" font-size="41.50">2</text>
<text x="913.92" y="150.20" font-size="41.50">,</text>
<text x="949.97" y="154.50" font-size="41.50" font-style="italic">D</text>
<rect x="982.30" y="137.00" width="21.40" height="2.00" fill="#000"/><rect x="982.30" y="143.00" width="21.40" height="2.00" fill="#000"/>
<text x="1003.76" y="154.50" font-size="41.50">70</text>
<path d="M298.88 560.25 L310.98 527.05 L333.82 527.05 L321.42 560.25 Z M310.98 527.05 L321.42 560.25 M298.88 560.25 L333.82 527.05" fill="none" stroke="#000" stroke-width="2.80" stroke-linejoin="miter"/>
<text x="325.79" y="575.90" font-size="31.00">re</text>
<text x="366.32" y="561.01" font-size="51.00">/</text>
<text x="391.59" y="561.90" font-size="51.00">rad</text>
<path d="M946.88 547.95 L958.98 514.75 L981.82 514.75 L969.42 547.95 Z M958.98 514.75 L969.42 547.95 M946.88 547.95 L981.82 514.75" fill="none" stroke="#000" stroke-width="2.80" stroke-linejoin="miter"/>
<text x="973.79" y="563.60" font-size="31.00">re</text>
<text x="1014.32" y="548.71" font-size="51.00">/</text>
<text x="1039.59" y="549.60" font-size="51.00">rad</text>
<g transform="translate(36.10 279.50) rotate(-90)">
<path d="M1.48 -1.35 L13.58 -34.55 L36.42 -34.55 L24.02 -1.35 Z M13.58 -34.55 L24.02 -1.35 M1.48 -1.35 L36.42 -34.55" fill="none" stroke="#000" stroke-width="2.80" stroke-linejoin="miter"/>
<text x="34.89" y="13.80" font-size="31.00">re</text>
<text x="75.12" y="-1.09" font-size="51.00">/</text>
<text x="100.69" y="0.00" font-size="51.00">Hz</text>
</g>
<g transform="translate(691.10 309.20) rotate(-90)">
<path d="M1.48 -1.35 L13.58 -34.55 L36.42 -34.55 L24.02 -1.35 Z M13.58 -34.55 L24.02 -1.35 M1.48 -1.35 L36.42 -34.55" fill="none" stroke="#000" stroke-width="2.80" stroke-linejoin="miter"/>
<text x="34.89" y="13.80" font-size="31.00">re</text>
<text x="75.12" y="-1.09" font-size="51.00">/</text>
<text x="100.69" y="0.00" font-size="51.00">Hz</text>
</g>
<text x="132.45" y="672.50" font-size="45.80">(a) Different inertia.</text>
<text x="812.17" y="672.50" font-size="45.80">(b) Different damping.</text>
</g>
</svg>
</body></html>
